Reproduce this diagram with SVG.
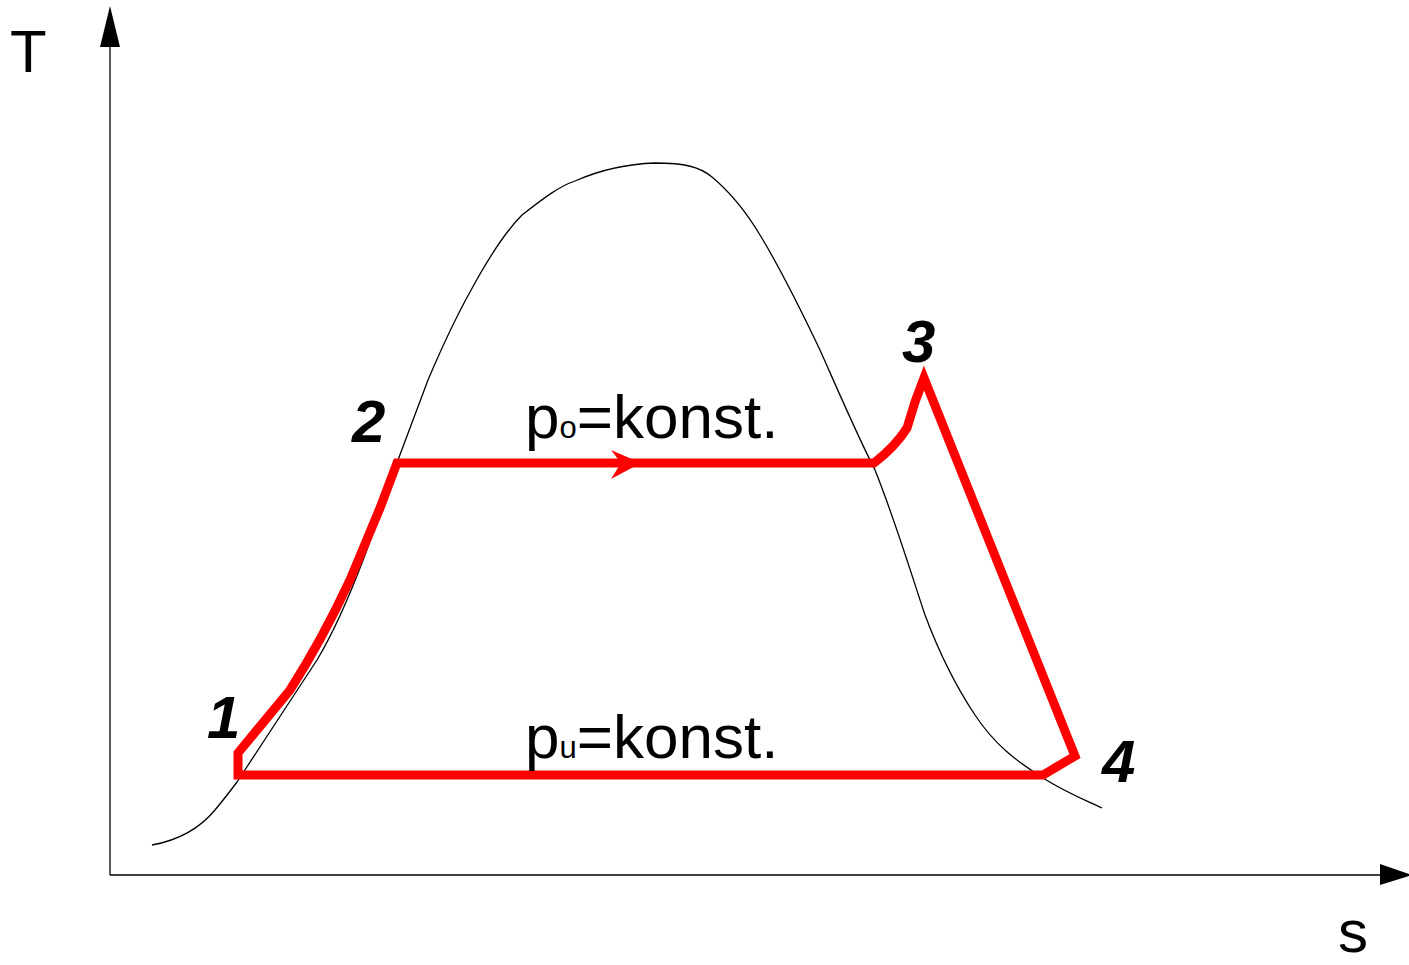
<svg xmlns="http://www.w3.org/2000/svg" width="1409" height="965" viewBox="0 0 1409 965">
<style>
.lbl{font-family:"Liberation Sans",Arial,sans-serif;font-size:60px;fill:#000}
.eq{font-family:"Liberation Sans",Arial,sans-serif;font-size:62px;fill:#000}
.num{font-family:"Liberation Sans",Arial,sans-serif;font-size:60px;font-weight:bold;font-style:italic;fill:#000}
.thin{fill:none;stroke:#000;stroke-width:1.3}
.cycle{fill:none;stroke:#ff0000;stroke-width:9;stroke-linejoin:miter;stroke-miterlimit:10}
</style>
<rect width="1409" height="965" fill="#fff"/>
<g id="axes">
<line class="thin" x1="110" y1="44" x2="110" y2="875"/>
<polygon points="110,6 100,47 120,47" fill="#000"/>
<line class="thin" x1="110" y1="875" x2="1382" y2="875"/>
<polygon points="1412,875 1380,864 1380,885" fill="#000"/>
<text class="lbl" x="10" y="72">T</text>
<text class="lbl" x="1338" y="952">s</text>
</g>
<g id="dome">
<path class="thin" d="M152,845 C180,840 200,828 215,810 C225,798 231,790 237,782 L277,721 L317,660 C335,630 350,595 365,555 C378,520 388,488 398,460 L428,380 C445,340 460,310 470,292 C490,255 505,232 522,215 C545,197 560,186 575,181 C600,170 625,164 655,163 C685,163 700,167 712,177 C730,192 745,210 760,235 C780,268 800,308 820,350 C840,395 858,437 875,470 C895,520 910,570 925,615 C940,655 955,685 975,715 C995,745 1015,760 1043,778 C1065,792 1085,800 1102,808"/>
</g>
<g id="connectors">
<path class="cycle" d="M238,775 L1043,775 L1075,756 L924,378 L915,402 L907,428 Q895,447 874,463 L397,463 L380,508 L350,580 Q322,640 290,690 L238,753 Z"/>
<polygon points="641,463 611,450 621,463 611,479" fill="#ff0000"/>
</g>
<g id="p1"><text class="num" x="207" y="738">1</text></g>
<g id="p2"><text class="num" x="352" y="442">2</text></g>
<g id="p3"><text class="num" x="902" y="362">3</text></g>
<g id="p4"><text class="num" x="1102" y="782">4</text></g>
<g id="label-po"><text class="eq" x="525" y="438">p<tspan font-size="31">o</tspan>=konst.</text></g>
<g id="label-pu"><text class="eq" x="525" y="758">p<tspan font-size="31">u</tspan>=konst.</text></g>
</svg>
